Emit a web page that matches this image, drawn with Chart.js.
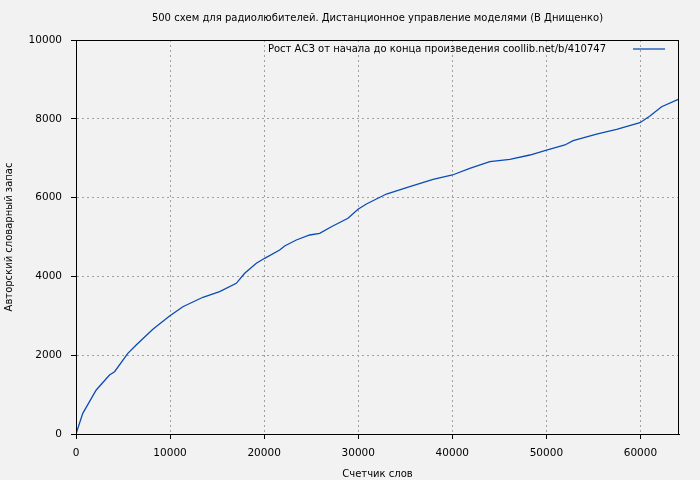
<!DOCTYPE html>
<html>
<head>
<meta charset="utf-8">
<script src="https://cdn.jsdelivr.net/npm/chart.js@4.4.1/dist/chart.umd.min.js"></script>
<style>
  html, body { margin: 0; padding: 0; background: #f2f2f2; }
  #wrap { width: 700px; height: 480px; }
</style>
</head>
<body>
<div id="wrap"><canvas id="growthChart"></canvas></div>
<script>
// word counter (x) and author vocabulary (y)
var words = [0, 720, 2150, 3560, 4100, 5510, 6400, 8170, 9950, 11360, 13490, 15270, 17040,
  17930, 19170, 20050, 21650, 22180, 23420, 24840, 25900, 27150, 28910, 29980, 30870,
  33000, 35480, 37960, 40020, 41860, 43990, 46120, 48250, 50020, 51970, 52850, 55340,
  57470, 59950, 61010, 62250, 64020];
var vocab = [0, 525, 1117, 1497, 1580, 2048, 2259, 2657, 2995, 3231, 3470, 3612, 3825,
  4079, 4333, 4459, 4670, 4772, 4924, 5051, 5094, 5261, 5475, 5703, 5838,
  6091, 6277, 6464, 6574, 6743, 6911, 6972, 7081, 7208, 7335, 7445, 7614,
  7734, 7901, 8071, 8307, 8495];
var xTicks = [0, 10000, 20000, 30000, 40000, 50000, 60000];
var yTicks = [0, 2000, 4000, 6000, 8000, 10000];
var titleText = "500 схем для радиолюбителей. Дистанционное управление моделями (В Днищенко)";
var seriesName = "Рост АСЗ от начала до конца произведения coollib.net/b/410747";

var points = [];
for (var i in words) {
  points.push({ x: words[i], y: vocab[i] });
}

// gnuplot-like frame, title and key inside the plot
var decor = {
  id: "decor",
  afterDatasetsDraw: function (chart) {
    var a = chart.chartArea, c = chart.ctx;
    c.save();
    c.setLineDash([]);
    c.strokeStyle = "#000";
    c.lineWidth = 1;
    c.strokeRect(a.left + 0.5, a.top + 0.5, a.right - a.left - 1, a.bottom - a.top);

    c.fillStyle = "#000";
    c.font = "10px 'DejaVu Sans'";
    c.textBaseline = "middle";
    c.textAlign = "center";
    c.fillText(titleText, (a.left + a.right) / 2, 18);

    var ds = chart.data.datasets[0];
    c.textAlign = "right";
    c.fillText(ds.label, a.right - 73, a.top + 9);
    c.strokeStyle = ds.borderColor;
    c.lineWidth = 1.3;
    c.beginPath();
    c.moveTo(a.right - 46, a.top + 9);
    c.lineTo(a.right - 14, a.top + 9);
    c.stroke();
    c.restore();
  }
};

var gridStyle = {
  color: "#a0a0a0",
  lineWidth: 1,
  tickColor: "#000",
  tickBorderDash: [],
  tickLength: 5
};
var borderStyle = { color: "#000", width: 1, dash: [2, 3] };
var plain = function (v) { return String(v); };

var ctx = document.getElementById("growthChart");
var myLineChart = new Chart(ctx, {
  type: "line",
  data: {
    datasets: [
      {
        label: seriesName,
        data: points,
        borderColor: "#0b4bb5",
        backgroundColor: "#0b4bb5",
        borderWidth: 1.3,
        pointRadius: 0,
        tension: 0
      }
    ]
  },
  options: {
    responsive: true,
    maintainAspectRatio: false,
    animation: false,
    layout: { padding: { left: 0, right: 21, top: 40, bottom: 0 } },
    plugins: {
      legend: { display: false },
      tooltip: { enabled: false }
    },
    scales: {
      x: {
        type: "linear",
        min: 0,
        max: 64100,
        afterBuildTicks: function (s) {
          s.ticks = xTicks.map(function (v) { return { value: v }; });
        },
        afterFit: function (s) { s.height = 46; },
        grid: gridStyle,
        border: borderStyle,
        ticks: {
          color: "#000",
          font: { family: "DejaVu Sans", size: 10.5 },
          padding: 8,
          maxRotation: 0,
          callback: plain
        },
        title: {
          display: true,
          text: "Счетчик слов",
          color: "#000",
          font: { family: "DejaVu Sans", size: 10 },
          padding: { top: 3, bottom: 0 }
        }
      },
      y: {
        min: 0,
        max: 10000,
        afterBuildTicks: function (s) {
          s.ticks = yTicks.map(function (v) { return { value: v }; });
        },
        afterFit: function (s) { s.width = 76; },
        grid: gridStyle,
        border: borderStyle,
        ticks: {
          color: "#000",
          font: { family: "DejaVu Sans", size: 10.5 },
          padding: 9,
          callback: plain
        },
        title: {
          display: true,
          text: "Авторский словарный запас",
          color: "#000",
          font: { family: "DejaVu Sans", size: 10 },
          padding: { top: 3, bottom: 0 }
        }
      }
    }
  },
  plugins: [decor]
});
</script>
</body>
</html>
